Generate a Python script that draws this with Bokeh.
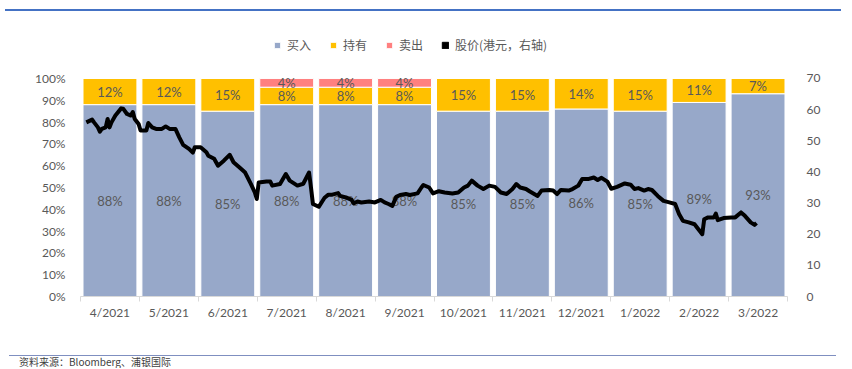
from datetime import datetime, timedelta
from bokeh.plotting import figure
from bokeh.models import (Range1d, LinearAxis, FixedTicker, NumeralTickFormatter,
                          Legend, LegendItem, Div, ColumnDataSource)
from bokeh.layouts import column
from bokeh.core.properties import value
from bokeh.embed import file_html
from bokeh.resources import INLINE

# ---------------- data ----------------
months = ["4/2021", "5/2021", "6/2021", "7/2021", "8/2021", "9/2021",
          "10/2021", "11/2021", "12/2021", "1/2022", "2/2022", "3/2022"]
buy = [88, 88, 85, 88, 88, 88, 85, 85, 86, 85, 89, 93]
hold = [12, 12, 15, 8, 8, 8, 15, 15, 14, 15, 11, 7]
sell = [0, 0, 0, 4, 4, 4, 0, 0, 0, 0, 0, 0]

# share price (HKD), days counted from 2021-04-01
price_day = [3, 6, 7, 9, 10, 11, 13, 14, 15, 16, 18, 21, 22, 24, 26, 27, 28, 30, 31, 34,
             35, 37, 39, 42, 44, 46, 49, 51, 53, 56, 58, 59, 62, 65, 66, 69, 71, 74, 77, 79,
             83, 85, 88, 90, 91, 92, 96, 98, 99, 103, 106, 108, 112, 115, 118, 119, 120, 123, 126, 128,
             130, 133, 134, 137, 140, 141, 143, 145, 149, 152, 155, 157, 159, 161, 163, 165, 168, 170, 174, 176,
             177, 180, 182, 185, 188, 192, 195, 198, 200, 202, 205, 208, 211, 214, 217, 220, 223, 225, 227, 230,
             232, 236, 238, 242, 244, 246, 248, 252, 254, 257, 259, 262, 265, 267, 269, 272, 274, 277, 281, 284,
             286, 288, 291, 293, 295, 298, 301, 304, 307, 309, 311, 314, 317, 319, 321, 322, 324, 327, 328, 329,
             332, 336, 338, 341, 343, 346, 348, 349]
price_hkd = [55.9, 56.8, 55.9, 54.3, 52.9, 53.8, 54.3, 57.0, 54.3, 55.9, 58.1, 60.4, 60.3, 58.6, 58.1, 59.2, 57.0, 55.4, 53.3, 53.3,
             55.7, 54.3, 53.8, 53.8, 54.6, 53.8, 53.8, 51.1, 48.7, 47.4, 46.2, 47.9, 47.9, 46.3, 45.2, 44.2, 42.0, 43.6, 45.5, 43.1,
             40.9, 39.8, 36.1, 33.4, 31.3, 36.6, 36.9, 36.9, 35.6, 36.1, 39.3, 37.2, 35.6, 36.2, 39.8, 34.9, 29.7, 28.8, 31.7, 32.7,
             32.7, 33.2, 32.3, 31.8, 31.0, 29.9, 30.5, 30.2, 30.5, 30.2, 31.0, 30.2, 29.7, 29.1, 32.0, 32.6, 32.9, 32.6, 33.1, 35.0,
             35.8, 35.0, 33.1, 33.8, 33.4, 33.1, 33.4, 35.0, 35.6, 37.2, 35.6, 34.5, 35.6, 35.2, 33.4, 32.9, 34.5, 36.1, 35.0, 34.5,
             33.7, 32.3, 34.0, 34.2, 34.0, 32.9, 34.2, 34.0, 34.5, 35.6, 37.7, 37.7, 38.2, 37.4, 38.1, 36.9, 34.6, 35.2, 36.3, 35.9,
             34.5, 34.8, 34.0, 34.5, 34.2, 32.3, 30.7, 30.2, 29.7, 26.5, 24.3, 23.8, 23.2, 21.6, 20.0, 24.8, 25.4, 25.4, 26.6, 24.5,
             25.2, 25.4, 25.4, 27.0, 25.9, 23.8, 23.0, 23.6]

# ---------------- styles ----------------
BUY_C, HOLD_C, SELL_C = "#97A8C9", "#FFC000", "#FF8080"
TXT = "#595959"
FONT = "Lato"
CJK = "Noto Sans CJK SC"
Y_END = 1.22          # frame extends above 100% to hold the legend
P_END = 70 * Y_END

n = len(months)
xs = [i + 0.5 for i in range(n)]
src = ColumnDataSource(dict(
    x=xs,
    buy=[b / 100 for b in buy],
    hold=[h / 100 for h in hold],
    sell=[s / 100 for s in sell],
))

base = datetime(2021, 4, 1)
p = figure(width=836, height=334, output_backend="svg", toolbar_location=None,
           x_range=Range1d(0, n), y_range=Range1d(0, Y_END),
           min_border_left=80, min_border_right=49, min_border_top=14, min_border_bottom=54)
p.extra_x_ranges = {"date": Range1d(start=base, end=base + timedelta(days=365))}
p.extra_y_ranges = {"price": Range1d(0, P_END)}

bars = p.vbar_stack(["buy", "hold", "sell"], x="x", width=0.915, source=src,
                    fill_color=[BUY_C, HOLD_C, SELL_C], line_color="white", line_width=1)

# labels inside the bars
lx, ly, lt = [], [], []
for i in range(n):
    b, h, s = buy[i], hold[i], sell[i]
    lx.append(xs[i]); ly.append(b / 200); lt.append(f"{b}%")
    if h > 0:
        lx.append(xs[i]); ly.append((b + h / 2) / 100); lt.append(f"{h}%")
    if s > 0:
        lx.append(xs[i]); ly.append((b + h + s / 2) / 100); lt.append(f"{s}%")
p.text(x=lx, y=ly, text=lt, text_align="center", text_baseline="middle",
       text_font=value(FONT), text_font_size="13px", text_color=TXT)

# share price line
pdates = [base + timedelta(days=d) for d in price_day]
line = p.line(x=pdates, y=price_hkd, x_range_name="date", y_range_name="price",
              line_color="black", line_width=4, line_join="round")
# hidden renderer that only supplies the black square legend swatch
nan = float("nan")
swatch = p.vbar(x=[nan], top=[nan], width=0.5, fill_color="black", line_color="black")

# axes
p.xgrid.visible = False
p.ygrid.visible = False
p.outline_line_color = None

xa = p.xaxis[0]
xa.ticker = FixedTicker(ticks=xs, minor_ticks=list(range(n + 1)))
xa.major_label_overrides = {x: m for x, m in zip(xs, months)}
xa.axis_line_color = "#D9D9D9"
xa.major_tick_line_color = None
xa.major_tick_out = 0
xa.major_tick_in = 0
xa.minor_tick_line_color = "#D9D9D9"
xa.minor_tick_out = 5
xa.minor_tick_in = 0
xa.major_label_standoff = 3
xa.major_label_text_font = FONT
xa.major_label_text_font_size = "12px"
xa.major_label_text_color = TXT

ya = p.yaxis[0]
ya.ticker = FixedTicker(ticks=[i / 10 for i in range(11)])
ya.formatter = NumeralTickFormatter(format="0%")
ya.axis_line_color = None
ya.major_tick_line_color = None
ya.minor_tick_line_color = None
ya.major_tick_out = 0
ya.major_label_standoff = 15
ya.major_label_text_font = FONT
ya.major_label_text_font_size = "12px"
ya.major_label_text_color = TXT

ra = LinearAxis(y_range_name="price", ticker=FixedTicker(ticks=list(range(0, 71, 10))))
ra.axis_line_color = None
ra.major_tick_line_color = None
ra.minor_tick_line_color = None
ra.major_tick_out = 0
ra.major_label_standoff = 19
ra.major_label_text_font = FONT
ra.major_label_text_font_size = "12px"
ra.major_label_text_color = TXT
p.add_layout(ra, "right")

legend = Legend(items=[
    LegendItem(label="买入", renderers=[bars[0]]),
    LegendItem(label="持有", renderers=[bars[1]]),
    LegendItem(label="卖出", renderers=[bars[2]]),
    LegendItem(label="股价(港元，右轴)", renderers=[swatch]),
], orientation="horizontal", location=(193, 243), padding=0, margin=0, spacing=18,
    label_standoff=6, glyph_width=8, glyph_height=8, border_line_color=None,
    background_fill_alpha=0, label_text_font=CJK, label_text_font_size="12px",
    label_text_color=TXT)
p.add_layout(legend)

top = Div(text="", width=836, height=6,
          styles={"border-bottom": "2px solid #4472C4", "box-sizing": "border-box"})
foot = Div(text="资料来源：Bloomberg、浦银国际", width=827, height=13,
           styles={"border-top": "1px solid #7F8FC0", "margin-left": "9px",
                   "padding-left": "10px", "font-size": "10px", "line-height": "12px",
                   "font-family": CJK, "color": "#404040", "overflow": "hidden",
                   "box-sizing": "border-box"})

page = column(top, p, foot, spacing=0)
open("out.html", "w").write(file_html(page, INLINE))
